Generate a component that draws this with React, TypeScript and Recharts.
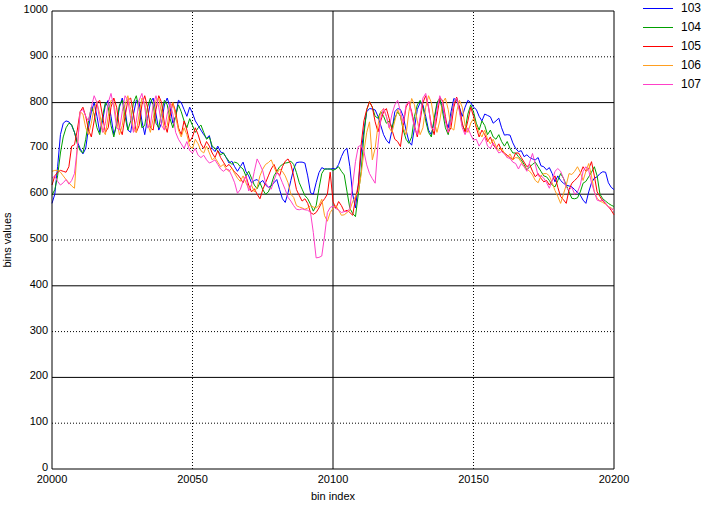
import React from 'react';
import {
  LineChart, Line, XAxis, YAxis, ReferenceLine, Legend,
} from 'recharts';

const START_BIN = 20000;
const xTicks = [20000, 20050, 20100, 20150, 20200];
const yTicks = [0, 100, 200, 300, 400, 500, 600, 700, 800, 900, 1000];
const solidY = [200, 400, 600, 800, 1000];
const dottedY = [100, 300, 500, 700, 900];
const solidX = [20100, 20200];
const dottedX = [20050, 20150];

const seriesNames = ['103', '104', '105', '106', '107'];
const seriesColors = ['#0000ff', '#00a000', '#ff0000', '#ff9f20', '#ff40c8'];

const s103 = [
  580, 600, 660, 730, 755, 760, 758, 750, 735, 715, 700, 688, 700,
  745, 780, 800, 770, 735, 760, 795, 805, 770, 730, 750, 790, 810, 785, 740, 735, 775, 805, 800, 760, 730, 765, 800, 810, 775, 740, 755, 795, 810, 790, 755, 770, 805,
  800, 785, 770, 790, 777, 760, 750, 740, 730, 722, 728, 700, 693, 705, 692, 690, 680, 668, 672, 660, 650,
  660, 670, 650, 640, 625, 630, 632, 625, 630, 620, 615, 618, 625, 632, 610, 590, 582, 603, 630, 655, 669, 670, 670, 668, 640, 603, 600, 625, 647, 658, 655, 655, 655, 656,
  655, 665, 682, 695, 700, 660, 600, 570, 620, 690, 740, 780,
  787, 786, 784, 770, 750, 730, 718, 711, 740, 780, 787, 785, 770, 740, 715, 707, 745, 785, 800, 795, 770, 740, 730, 760, 795, 805, 790, 760, 745, 780, 809, 805, 790, 770, 790, 805, 800, 790,
  785, 770, 760, 775, 772, 769, 755, 760, 766, 745,
  729, 730, 729, 712, 700, 693, 695, 682, 686, 680,
  677, 675, 680, 662, 660, 653, 658, 645, 627, 640,
  630, 624, 620, 618, 616, 610, 604, 598, 587, 580,
  605, 625, 635, 638, 645, 649, 648, 625, 615, 610,
];

const s104 = [
  598, 610, 640, 690, 725, 745, 755, 752, 735, 710, 695, 690, 720,
  760, 790, 775, 745, 730, 770, 800, 790, 750, 725, 755, 795, 805, 770, 740, 760, 800, 815, 785, 745, 750, 790, 810, 795, 755, 745, 780, 805, 795, 765, 745, 770, 795,
  780, 760, 745, 765, 750, 735, 745, 751, 735, 720, 725, 705, 700, 695, 686, 690, 680, 672, 665, 670, 668,
  660, 655, 640, 650, 635, 620, 612, 625, 610, 600,
  605, 620, 640, 650, 660, 665, 668, 669, 672, 665,
  647, 625, 611, 597, 590, 578, 563, 575, 612, 645,
  655, 655, 655, 652,
  655, 660, 650, 642, 605, 569, 558, 551, 600, 649, 729, 784,
  802, 790, 770, 766, 780, 770, 755, 760, 745, 766,
  780, 770, 740, 720, 711, 725, 770, 795, 805, 790,
  760, 735, 725, 765, 800, 810, 780, 745, 730, 765,
  800, 810, 785, 750, 740, 775, 795, 780,
  755, 740, 760, 750, 730, 740, 725, 720, 730, 715,
  705, 715, 700, 690, 690, 682, 675, 665, 653, 660,
  665, 670, 660, 650, 640, 638, 630, 620, 616, 630,
  645, 635, 620, 605, 591, 590, 592, 605, 624, 628,
  638, 648, 660, 640, 600, 590, 585, 580, 576, 573,
];

const s105 = [
  620, 640, 648, 652, 650, 648, 660, 705, 708, 740, 780, 790, 770,
  740, 725, 760, 800, 805, 770, 735, 745, 790, 810, 790, 745, 730, 770, 805, 810, 775, 735, 750, 795, 815, 790, 745, 740, 785, 815, 800, 755, 735, 770, 800, 780, 745,
  730, 760, 740, 715, 725, 745, 730, 710, 700, 715, 705, 690, 680, 695, 680, 670, 660, 665, 657, 648, 643,
  635, 625, 640, 620, 605, 612, 600, 590, 610, 625,
  640, 655, 665, 650, 640, 660, 672, 677, 665, 640,
  610, 597, 585, 590, 580, 560, 556, 560, 570, 582,
  590, 600, 648, 584,
  569, 584, 575, 562, 565, 560, 554, 590, 620, 707, 760, 785,
  802, 790, 758, 736, 760, 780, 787, 765, 740, 720,
  715, 704, 750, 790, 802, 780, 750, 725, 760, 800,
  815, 790, 750, 730, 770, 810, 805, 770, 735, 745,
  790, 812, 790, 755, 735, 760, 790, 770,
  745, 725, 740, 730, 715, 725, 708, 700, 710, 695,
  690, 685, 680, 675, 690, 690, 680, 670, 660, 665,
  650, 638, 645, 635, 627, 630, 620, 630, 640, 615,
  595, 588, 580, 610, 624, 630, 636, 645, 660, 650,
  655, 671, 640, 605, 595, 585, 580, 573, 565, 555,
];

const s106 = [
  650, 652, 652, 648, 640, 632, 625, 618, 613, 700, 780, 775, 745,
  730, 755, 790, 800, 775, 740, 730, 770, 805, 800, 760, 730, 750, 795, 815, 785, 740, 735, 775, 810, 800, 755, 735, 765, 805, 810, 775, 740, 750, 790, 800, 770, 740,
  725, 745, 730, 705, 700, 720, 710, 695, 690, 705, 690, 675, 680, 670, 660, 665, 655, 650, 657, 645, 635,
  628, 640, 625, 612, 620, 605, 615, 640, 655, 665,
  669, 675, 660, 645, 655, 650, 640, 625, 600, 593,
  575, 572, 570, 567, 570, 575, 572, 570, 575, 589,
  553, 541, 560, 569,
  575, 565, 554, 555, 560, 565, 584, 595, 605, 642, 693, 735,
  758, 675, 700, 750, 780, 787, 770, 745, 735, 760,
  785, 770, 745, 730, 780, 809, 795, 760, 730, 745,
  790, 815, 800, 760, 735, 760, 800, 810, 785, 745,
  740, 780, 805, 790, 750, 735, 755, 765,
  750, 735, 725, 740, 720, 710, 720, 705, 695, 700,
  690, 680, 688, 675, 680, 679, 670, 660, 655, 650,
  642, 630, 625, 640, 645, 645, 640, 625, 608, 595,
  580, 600, 620, 645, 643, 650, 660, 648, 630, 650,
  667, 640, 605, 591, 585, 582, 578, 573, 570, 565,
];

const s107 = [
  635, 640, 628, 620, 625, 632, 622, 630, 645, 700, 780, 785, 770,
  760, 790, 815, 800, 760, 735, 755, 800, 820, 790, 745, 740, 780, 815, 805, 765, 735, 760, 805, 820, 790, 745, 750, 795, 815, 790, 750, 740, 775, 800, 775, 735, 720,
  710, 700, 715, 695, 690, 700, 685, 680, 685, 675, 668, 671, 675, 665, 655, 650, 655, 653, 640, 625, 602,
  610, 628, 640, 607, 620, 650, 677, 665, 651, 625,
  615, 611, 630, 647, 640, 625, 610, 593, 585, 575,
  567, 566, 568, 566, 565, 560, 516, 461, 462, 465,
  509, 560, 571, 574,
  569, 565, 560, 562, 562, 569, 620, 671, 704, 707, 693, 664,
  645, 634, 624, 707, 766, 787, 770, 745, 775, 795,
  805, 780, 755, 795, 802, 775, 745, 730, 770, 810,
  820, 790, 745, 740, 785, 815, 800, 760, 735, 760,
  800, 810, 780, 745, 730, 745, 730, 718,
  720, 705, 715, 725, 705, 700, 712, 700, 690, 693,
  688, 680, 678, 670, 667, 655, 667, 660, 650, 670,
  689, 665, 640, 640, 635, 625, 613, 630, 650, 656,
  650, 635, 615, 609, 615, 600, 605, 620, 650, 660,
  652, 625, 605, 587, 585, 588, 580, 572, 568, 565,
];

const data = s103.map((v, i) => ({
  bin: START_BIN + i,
  s103: v,
  s104: s104[i],
  s105: s105[i],
  s106: s106[i],
  s107: s107[i],
}));

const FONT = '"Liberation Sans", Arial, sans-serif';

function LegendBox() {
  return (
    <div style={{ position: 'relative', width: 69, height: 95, fontFamily: FONT, fontSize: 12 }}>
      {seriesNames.map((name, i) => (
        <div key={name} style={{ position: 'absolute', left: 0, top: i * 19, height: 16, display: 'flex', alignItems: 'center' }}>
          <span style={{ display: 'inline-block', width: 30, height: 0, borderTop: `1px solid ${seriesColors[i]}` }} />
          <span style={{ marginLeft: 8, color: '#000' }}>{name}</span>
        </div>
      ))}
    </div>
  );
}

export default function App() {
  return (
    <div style={{ position: 'absolute', left: 0, top: 0 }}>
      <LineChart
        width={709}
        height={505}
        data={data}
        margin={{ top: 11, right: 95, bottom: 0, left: 0 }}
        style={{ fontFamily: FONT }}
      >
        {solidY.map((y) => (
          <ReferenceLine key={`sy${y}`} y={y} stroke="#000" strokeWidth={1} />
        ))}
        {dottedY.map((y) => (
          <ReferenceLine key={`dy${y}`} y={y} stroke="#000" strokeWidth={1} strokeDasharray="1 2" />
        ))}
        {solidX.map((x) => (
          <ReferenceLine key={`sx${x}`} x={x} stroke="#000" strokeWidth={1} />
        ))}
        {dottedX.map((x) => (
          <ReferenceLine key={`dx${x}`} x={x} stroke="#000" strokeWidth={1} strokeDasharray="1 2" />
        ))}
        <XAxis
          dataKey="bin"
          type="number"
          domain={[20000, 20200]}
          ticks={xTicks}
          interval={0}
          height={36}
          tickSize={0}
          tickMargin={6}
          axisLine={{ stroke: '#000' }}
          tick={{ fill: '#000', fontSize: 11 }}
          label={{ value: 'bin index', position: 'insideBottom', offset: 5, fill: '#000', fontSize: 11 }}
        />
        <YAxis
          type="number"
          domain={[0, 1000]}
          ticks={yTicks}
          interval={0}
          width={52}
          tickSize={0}
          tickMargin={4}
          axisLine={{ stroke: '#000' }}
          tick={{ fill: '#000', fontSize: 11, dy: -2 }}
          label={{
            content: () => (
              <text x={11} y={240} transform="rotate(-90 11 240)" textAnchor="middle" fill="#000" fontSize={11}>
                bins values
              </text>
            ),
          }}
        />
        {seriesNames.map((name, i) => (
          <Line
            key={name}
            type="linear"
            dataKey={`s${name}`}
            name={name}
            stroke={seriesColors[i]}
            strokeWidth={1}
            dot={false}
            activeDot={false}
            isAnimationActive={false}
          />
        ))}
        <Legend
          layout="horizontal"
          verticalAlign="middle"
          align="center"
          content={() => <LegendBox />}
          wrapperStyle={{ position: 'absolute', left: 643, top: 0, width: 69, height: 95 }}
        />
      </LineChart>
    </div>
  );
}
